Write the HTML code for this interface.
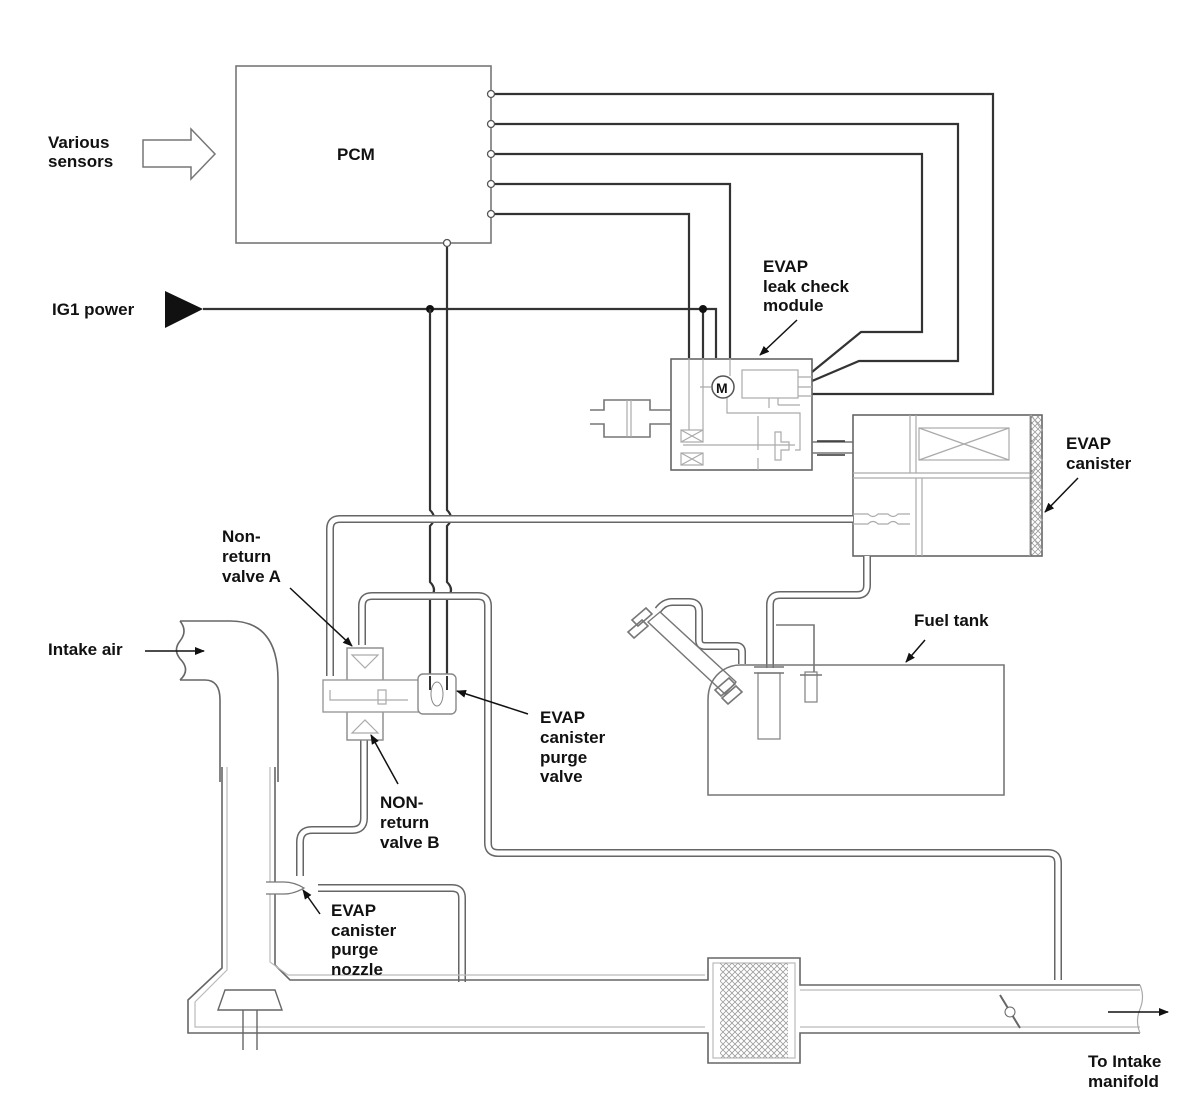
<!DOCTYPE html>
<html><head><meta charset="utf-8"><style>
html,body{margin:0;padding:0;background:#fff}
svg{display:block}
text{font-family:"Liberation Sans",Arial,sans-serif;font-weight:bold;font-size:17px;fill:#111}
.w{fill:none;stroke:#333;stroke-width:2.2}
.t1{fill:none;stroke:#666;stroke-width:8}
.t2{fill:none;stroke:#fff;stroke-width:5}
.g{fill:none;stroke:#777;stroke-width:1.6}
.gl{fill:none;stroke:#aaa;stroke-width:1.2}
</style></head><body>
<svg width="1200" height="1110" viewBox="0 0 1200 1110" xmlns="http://www.w3.org/2000/svg">
<defs>
<marker id="ar" markerWidth="10" markerHeight="8" refX="9" refY="4" orient="auto" markerUnits="userSpaceOnUse"><path d="M0,0 L10,4 L0,8 Z" fill="#111"/></marker>
<pattern id="hatch" width="6" height="6" patternUnits="userSpaceOnUse"><path d="M0,3 L3,0 L6,3 L3,6 Z" fill="none" stroke="#999" stroke-width="0.8"/></pattern>
</defs>

<!-- PCM -->
<rect x="236" y="66" width="255" height="177" fill="#fff" stroke="#777" stroke-width="1.6"/>
<text x="337" y="160">PCM</text>
<text x="48" y="148">Various</text><text x="48" y="167">sensors</text>
<path d="M143,140 H191 V129 L215,154 L191,179 V167 H143 Z" fill="#fff" stroke="#777" stroke-width="1.5"/>

<!-- wires -->
<path class="w" d="M495,94 H993 V394 H812"/>
<path class="w" d="M495,124 H958 V361 H859 L812,381"/>
<path class="w" d="M495,154 H922 V332 H861 L812,372"/>
<path class="w" d="M495,184 H730 V358"/>
<path class="w" d="M495,214 H689 V358"/>
<path class="w" d="M203,309 H716 V358"/>
<path class="w" d="M703,309 V358"/>
<circle cx="430" cy="309" r="4" fill="#111"/>
<circle cx="703" cy="309" r="4" fill="#111"/>
<polygon points="165,291 203,309 165,328" fill="#111"/>
<text x="52" y="315">IG1 power</text>
<path class="w" d="M430,309 V510 q8,8 0,16 V582 q8,8 0,16 V676"/>
<path class="w" d="M447,247 V510 q8,8 0,16 V582 q8,8 0,16 V676"/>
<g fill="#fff" stroke="#555" stroke-width="1.3">
<circle cx="491" cy="94" r="3.5"/><circle cx="491" cy="124" r="3.5"/><circle cx="491" cy="154" r="3.5"/><circle cx="491" cy="184" r="3.5"/><circle cx="491" cy="214" r="3.5"/><circle cx="447" cy="243" r="3.5"/>
</g>

<!-- leak check module -->
<rect x="671" y="359" width="141" height="111" fill="none" stroke="#666" stroke-width="1.6"/>
<circle cx="723" cy="387" r="11" fill="#fff" stroke="#555" stroke-width="1.5"/>
<text x="716" y="393" style="font-size:14px">M</text>
<rect x="742" y="370" width="56" height="28" class="gl"/>
<path class="gl" d="M798,377 H812 M798,387 H812 M798,396 H812 M689,359 V430 M703,359 V430 M730,359 V376 M711,387 H700 M727,398 V413 H800 V450 H795 M769,398 V408 M778,398 V405 M778,405 H800 M758,416 V450 M683,445 H795 M758,458 V470"/>
<rect x="681" y="430" width="22" height="12" class="gl"/><path class="gl" d="M681,430 L703,442 M703,430 L681,442"/>
<rect x="681" y="453" width="22" height="12" class="gl"/><path class="gl" d="M681,453 L703,465 M703,453 L681,465"/>
<path class="gl" d="M775,432 h6 v10 h8 v8 h-8 v10 h-6 z"/>
<path class="g" d="M590,410 H604 V400 H650 V410 H671 M590,424 H604 V437 H650 V424 H671"/>
<path class="gl" d="M627,400 V437 M631,400 V437"/>
<path class="g" d="M812,442 H853 M812,453 H853"/>
<path class="w" d="M817,441 H845 M817,455 H845" style="stroke-width:1.5"/>

<!-- canister -->
<rect x="853" y="415" width="189" height="141" fill="none" stroke="#666" stroke-width="1.6"/>
<path class="gl" d="M853,473 H1030 M853,478 H1030 M910,415 V473 M916,415 V473 M916,478 V556 M922,478 V556 M1030,415 V556"/>
<rect x="919" y="428" width="90" height="32" class="gl"/><path class="gl" d="M919,428 L1009,460 M1009,428 L919,460"/>
<rect x="1031" y="415" width="11" height="141" fill="url(#hatch)" stroke="#666" stroke-width="1"/>
<path class="gl" d="M1031,415 L1042,430 L1031,445 L1042,460 L1031,475 L1042,490 L1031,505 L1042,520 L1031,535 L1042,550"/>
<path class="gl" d="M853,514 H868 q5,5 10,0 H888 q5,5 10,0 H910 M853,524 H868 q5,-5 10,0 H888 q5,-5 10,0 H910"/>

<!-- tubes -->
<g>
<path class="t1" d="M853,519 H340 q-10,0 -10,10 V676"/>
<path class="t2" d="M853,519 H340 q-10,0 -10,10 V676"/>
<path class="t1" d="M362,645 V606 q0,-10 10,-10 H478 q10,0 10,10 V843 q0,10 10,10 H1048 q10,0 10,10 V980"/>
<path class="t2" d="M362,645 V606 q0,-10 10,-10 H478 q10,0 10,10 V843 q0,10 10,10 H1048 q10,0 10,10 V980"/>
<path class="t1" d="M364,740 V818 q0,12 -12,12 H312 q-12,0 -12,12 V876"/>
<path class="t2" d="M364,740 V818 q0,12 -12,12 H312 q-12,0 -12,12 V876"/>
<path class="t1" d="M318,888 H452 q10,0 10,10 V982"/>
<path class="t2" d="M318,888 H452 q10,0 10,10 V982"/>
<path class="t1" d="M867,556 V585 q0,10 -10,10 H780 q-10,0 -10,10 V668"/>
<path class="t2" d="M867,556 V585 q0,10 -10,10 H780 q-10,0 -10,10 V668"/>
<path class="t1" d="M742,664 V652 q0,-6 -6,-6 H705 q-6,0 -6,-6 V612 q0,-10 -10,-10 H672 q-8,0 -14,8"/>
<path class="t2" d="M742,664 V652 q0,-6 -6,-6 H705 q-6,0 -6,-6 V612 q0,-10 -10,-10 H672 q-8,0 -14,8"/>
</g>
<!-- filler neck -->
<path d="M648,622 L725,694 M660,612 L736,682" stroke="#777" stroke-width="1.5" fill="none"/>
<path d="M648,622 L725,694 L736,682 L660,612 Z" fill="#fff" stroke="#777" stroke-width="1.3"/>
<path class="g" d="M632,620 l14,-12 l6,6 l-14,12 z M628,632 l14,-12 l6,6 l-14,12 z M715,690 l14,-12 l6,6 l-14,12 z M722,698 l14,-12 l6,6 l-14,12 z"/>

<!-- purge valve assembly -->
<rect x="347" y="648" width="36" height="92" fill="#fff" stroke="#888" stroke-width="1.4"/>
<rect x="323" y="680" width="96" height="32" fill="#fff" stroke="#999" stroke-width="1.4"/>
<path class="gl" d="M352,655 L378,655 L365,668 Z M352,733 L378,733 L365,720 Z M330,690 V700 H408 M378,690 h8 v14 h-8 z"/>
<rect x="418" y="674" width="38" height="40" rx="5" fill="#fff" stroke="#888" stroke-width="1.4"/>
<ellipse cx="437" cy="694" rx="6" ry="12" fill="none" stroke="#888"/>
<path class="w" d="M430,676 V690 M447,676 V690" style="stroke-width:2"/>

<!-- fuel tank -->
<path class="g" d="M740,665 H1004 V795 H708 V700 q0,-20 15,-30 q8,-5 17,-5"/>
<rect x="758" y="673" width="22" height="66" fill="#fff" stroke="#888" stroke-width="1.3"/>
<path class="g" d="M754,673 H784 M754,667 H784"/>
<rect x="805" y="672" width="12" height="30" fill="#fff" stroke="#888" stroke-width="1.3"/>
<path class="g" d="M800,675 H822 M776,625 H814 V672"/>
<text x="914" y="626">Fuel tank</text>
<line x1="925" y1="640" x2="906" y2="662" stroke="#111" stroke-width="1.5" marker-end="url(#ar)"/>

<!-- intake pipe -->
<g fill="none" stroke="#666" stroke-width="1.6">
<path d="M180,621 H230 Q278,621 278,680 V782"/>
<path d="M180,680 H205 Q220,680 220,700 V782"/>
<path d="M180,621 q8,10 0,20 q-8,10 2,20 q8,10 -2,19"/>
<path d="M222,767 V968 L188,1000 V1033 H708 V1063 H800 V1033 H1140"/>
<path d="M275,767 V965 L290,980 H708 V958 H800 V985 H1140"/>
</g>
<g fill="none" stroke="#bbb" stroke-width="1.2">
<path d="M227,767 V970 L195,1002 V1027 H705 M270,767 V962 L288,975 H705 M800,990 H1140 M800,1027 H1140"/>
<rect x="713" y="963" width="82" height="95"/>
</g>
<rect x="720" y="963" width="68" height="95" fill="url(#hatch)"/>
<path d="M218,1010 L225,990 H275 L282,1010 Z" fill="#fff" stroke="#666" stroke-width="1.4"/>
<path d="M243,1010 V1050 M257,1010 V1050" stroke="#666" stroke-width="1.4"/>
<path d="M1000,995 L1020,1028" stroke="#666" stroke-width="2"/><circle cx="1010" cy="1012" r="5" fill="#fff" stroke="#666"/>
<path class="gl" d="M1140,985 q5,12 0,24 q-5,12 0,24"/>
<line x1="1108" y1="1012" x2="1168" y2="1012" stroke="#111" stroke-width="1.5" marker-end="url(#ar)"/>

<!-- labels -->
<text x="763" y="272">EVAP</text><text x="763" y="292">leak check</text><text x="763" y="311">module</text>
<line x1="797" y1="320" x2="760" y2="355" stroke="#111" stroke-width="1.5" marker-end="url(#ar)"/>
<text x="1066" y="449">EVAP</text><text x="1066" y="469">canister</text>
<line x1="1078" y1="478" x2="1045" y2="512" stroke="#111" stroke-width="1.5" marker-end="url(#ar)"/>
<text x="222" y="542">Non-</text><text x="222" y="562">return</text><text x="222" y="582">valve A</text>
<line x1="290" y1="588" x2="352" y2="646" stroke="#111" stroke-width="1.5" marker-end="url(#ar)"/>
<text x="48" y="655">Intake air</text>
<line x1="145" y1="651" x2="204" y2="651" stroke="#111" stroke-width="1.5" marker-end="url(#ar)"/>
<text x="540" y="723">EVAP</text><text x="540" y="743">canister</text><text x="540" y="763">purge</text><text x="540" y="782">valve</text>
<line x1="528" y1="714" x2="457" y2="691" stroke="#111" stroke-width="1.5" marker-end="url(#ar)"/>
<text x="380" y="808">NON-</text><text x="380" y="828">return</text><text x="380" y="848">valve B</text>
<line x1="398" y1="784" x2="371" y2="735" stroke="#111" stroke-width="1.5" marker-end="url(#ar)"/>
<text x="331" y="916">EVAP</text><text x="331" y="936">canister</text><text x="331" y="955">purge</text><text x="331" y="975">nozzle</text>
<line x1="320" y1="914" x2="303" y2="890" stroke="#111" stroke-width="1.5" marker-end="url(#ar)"/>
<path d="M266,882 h18 q10,0 20,6 q-10,6 -20,6 h-18" fill="#fff" stroke="#777" stroke-width="1.3"/>
<text x="1088" y="1067">To Intake</text><text x="1088" y="1087">manifold</text>
</svg>
</body></html>
